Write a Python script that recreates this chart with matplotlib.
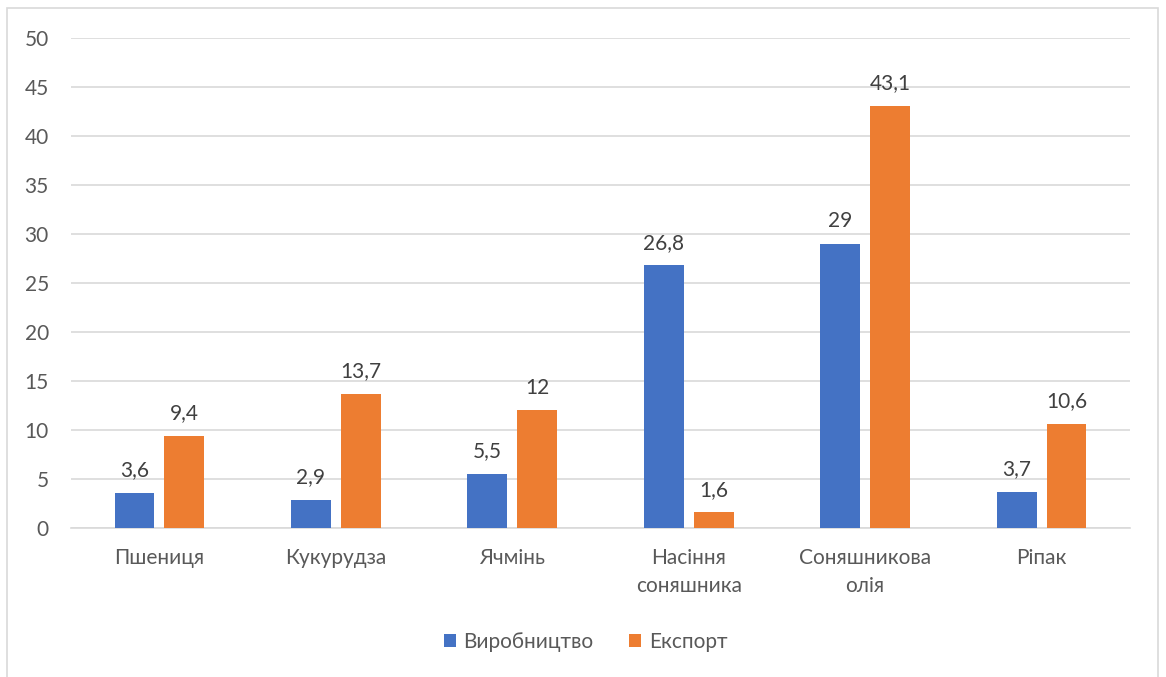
import matplotlib.pyplot as plt
from matplotlib.patches import Rectangle
import numpy as np

categories = ["Пшениця", "Кукурудза", "Ячмінь", "Насіння\nсоняшника", "Соняшникова\nолія", "Ріпак"]
production = [3.6, 2.9, 5.5, 26.8, 29, 3.7]
export = [9.4, 13.7, 12, 1.6, 43.1, 10.6]
prod_labels = ["3,6", "2,9", "5,5", "26,8", "29", "3,7"]
exp_labels = ["9,4", "13,7", "12", "1,6", "43,1", "10,6"]
yticks = [0, 5, 10, 15, 20, 25, 30, 35, 40, 45, 50]

plt.rcParams['font.family'] = ['Lato', 'DejaVu Sans']
text_color = '#595959'
blue = '#4472C4'
orange = '#ED7D31'

fig = plt.figure(figsize=(11.66, 6.77), dpi=100)
ax = fig.add_axes([0.061, 0.22, 0.908, 0.724])

x = np.arange(len(categories))
w = 0.226
gap = 0.056
b1 = ax.bar(x - (w + gap) / 2, production, w, color=blue, zorder=3, label="Виробництво")
b2 = ax.bar(x + (w + gap) / 2, export, w, color=orange, zorder=3, label="Експорт")

for bars, labels in ((b1, prod_labels), (b2, exp_labels)):
    for bar, lab in zip(bars, labels):
        ax.text(bar.get_x() + bar.get_width() / 2, bar.get_height() + 1.3, lab,
                ha='center', va='bottom', fontsize=15, color='#404040')

ax.set_xlim(-0.5, len(categories) - 0.5)
ax.set_ylim(0, 50)
ax.set_yticks(yticks)
ax.set_xticks(x)
ax.set_xticklabels(categories, fontsize=15, color=text_color, linespacing=1.5)
ax.tick_params(axis='y', labelsize=15, labelcolor=text_color, length=0, pad=16)
ax.tick_params(axis='x', length=0, pad=14)
ax.yaxis.grid(True, color='#D9D9D9', linewidth=1.2, zorder=0)
for s in ['top', 'right', 'left']:
    ax.spines[s].set_visible(False)
ax.spines['bottom'].set_color('#D9D9D9')
ax.spines['bottom'].set_linewidth(1.2)

fig.legend(loc='center', bbox_to_anchor=(0.502, 0.052), ncol=2, frameon=False,
           fontsize=15, handlelength=0.6, handleheight=0.6, columnspacing=1.7,
           handletextpad=0.35, labelcolor=text_color)

fig.patches.append(Rectangle((7 / 1166, -0.05), 1151 / 1166, 1.05 - 8 / 677,
                             transform=fig.transFigure, fill=False,
                             edgecolor='#D9D9D9', linewidth=1.2))

fig.savefig("out.png", dpi=100)
